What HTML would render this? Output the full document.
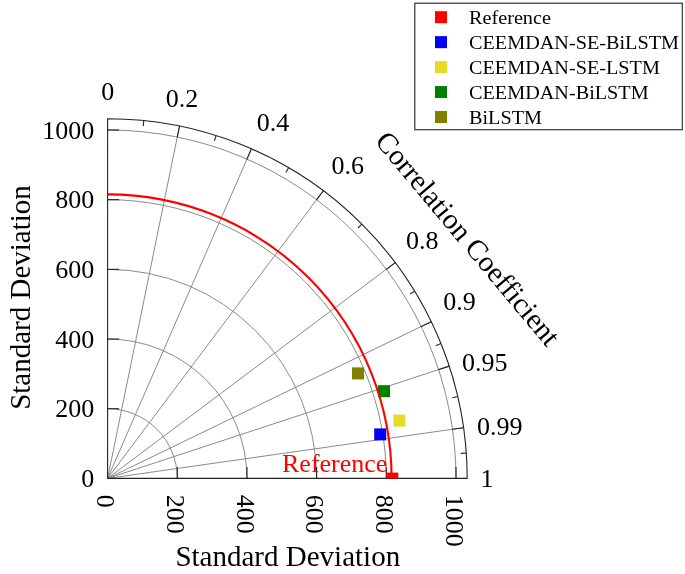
<!DOCTYPE html>
<html><head><meta charset="utf-8"><style>html,body{margin:0;padding:0;background:#fff;overflow:hidden}svg{display:block;will-change:transform}</style></head>
<body><svg width="685" height="574" viewBox="0 0 685 574">
<style>
.g{fill:none;stroke:#8a8a8a;stroke-width:1}
.t{stroke:#222;stroke-width:1.1}
.ax{fill:none;stroke:#222;stroke-width:1.1}
text{font-family:"Liberation Serif",serif;fill:#000}
.tl{font-size:26px}
.ti{font-size:29px}
.lg{font-size:19.45px}
</style>
<rect width="685" height="574" fill="#fff"/>
<path d="M107.60,408.72 A69.68,69.68 0 0 1 177.28,478.40" class="g"/><path d="M107.60,339.04 A139.36,139.36 0 0 1 246.96,478.40" class="g"/><path d="M107.60,269.36 A209.04,209.04 0 0 1 316.64,478.40" class="g"/><path d="M107.60,199.68 A278.72,278.72 0 0 1 386.32,478.40" class="g"/><path d="M107.60,130.00 A348.40,348.40 0 0 1 456.00,478.40" class="g"/><line x1="107.60" y1="478.40" x2="179.52" y2="126.07" class="g"/><line x1="107.60" y1="478.40" x2="251.44" y2="148.82" class="g"/><line x1="107.60" y1="478.40" x2="323.36" y2="190.72" class="g"/><line x1="107.60" y1="478.40" x2="395.28" y2="262.64" class="g"/><line x1="107.60" y1="478.40" x2="431.24" y2="321.65" class="g"/><line x1="107.60" y1="478.40" x2="449.22" y2="366.11" class="g"/><line x1="107.60" y1="478.40" x2="463.60" y2="427.67" class="g"/><line x1="177.22" y1="137.33" x2="179.52" y2="126.07" class="t"/><line x1="246.84" y1="159.36" x2="251.44" y2="148.82" class="t"/><line x1="316.46" y1="199.92" x2="323.36" y2="190.72" class="t"/><line x1="386.08" y1="269.54" x2="395.28" y2="262.64" class="t"/><line x1="420.89" y1="326.67" x2="431.24" y2="321.65" class="t"/><line x1="438.29" y1="369.71" x2="449.22" y2="366.11" class="t"/><line x1="452.22" y1="429.29" x2="463.60" y2="427.67" class="t"/><line x1="143.19" y1="126.09" x2="143.74" y2="120.62" class="t"/><line x1="214.42" y1="140.80" x2="216.08" y2="135.55" class="t"/><line x1="285.85" y1="172.44" x2="288.62" y2="167.68" class="t"/><line x1="357.99" y1="228.01" x2="361.88" y2="224.12" class="t"/><line x1="409.98" y1="294.14" x2="414.68" y2="291.28" class="t"/><line x1="435.87" y1="345.65" x2="440.97" y2="343.58" class="t"/><line x1="452.41" y1="397.83" x2="457.77" y2="396.58" class="t"/><line x1="460.81" y1="453.36" x2="466.30" y2="452.97" class="t"/><line x1="107.60" y1="408.72" x2="119.10" y2="408.72" class="t"/><line x1="177.28" y1="478.40" x2="177.28" y2="466.90" class="t"/><line x1="107.60" y1="339.04" x2="119.10" y2="339.04" class="t"/><line x1="246.96" y1="478.40" x2="246.96" y2="466.90" class="t"/><line x1="107.60" y1="269.36" x2="119.10" y2="269.36" class="t"/><line x1="316.64" y1="478.40" x2="316.64" y2="466.90" class="t"/><line x1="107.60" y1="199.68" x2="119.10" y2="199.68" class="t"/><line x1="386.32" y1="478.40" x2="386.32" y2="466.90" class="t"/><line x1="107.60" y1="130.00" x2="119.10" y2="130.00" class="t"/><line x1="456.00" y1="478.40" x2="456.00" y2="466.90" class="t"/><path d="M107.60,478.40 L107.60,118.80 A359.60,359.60 0 0 1 467.20,478.40 Z" class="ax"/>
<text x="94.2" y="487.00" text-anchor="end" class="tl">0</text><text x="94.2" y="417.32" text-anchor="end" class="tl">200</text><text x="94.2" y="347.64" text-anchor="end" class="tl">400</text><text x="94.2" y="277.96" text-anchor="end" class="tl">600</text><text x="94.2" y="208.28" text-anchor="end" class="tl">800</text><text x="94.2" y="138.60" text-anchor="end" class="tl">1000</text><text transform="translate(97.20,494.8) rotate(90)" class="tl">0</text><text transform="translate(166.88,494.8) rotate(90)" class="tl">200</text><text transform="translate(236.56,494.8) rotate(90)" class="tl">400</text><text transform="translate(306.24,494.8) rotate(90)" class="tl">600</text><text transform="translate(375.92,494.8) rotate(90)" class="tl">800</text><text transform="translate(445.60,494.8) rotate(90)" class="tl">1000</text><text x="107.80" y="99.80" text-anchor="middle" class="tl">0</text><text x="182.00" y="107.10" text-anchor="middle" class="tl">0.2</text><text x="273.10" y="130.80" text-anchor="middle" class="tl">0.4</text><text x="347.80" y="174.40" text-anchor="middle" class="tl">0.6</text><text x="422.20" y="248.60" text-anchor="middle" class="tl">0.8</text><text x="459.50" y="310.10" text-anchor="middle" class="tl">0.9</text><text x="484.70" y="370.90" text-anchor="middle" class="tl">0.95</text><text x="499.80" y="434.50" text-anchor="middle" class="tl">0.99</text><text x="487.00" y="486.90" text-anchor="middle" class="tl">1</text><text x="287.8" y="565.8" text-anchor="middle" class="ti">Standard Deviation</text><text transform="translate(29.8,297.5) rotate(-90)" text-anchor="middle" class="ti">Standard Deviation</text><text transform="translate(460.5,244.7) rotate(50)" text-anchor="middle" class="ti">Correlation Coefficient</text><text x="282" y="472.1" class="tl" style="fill:#f00">Reference</text>
<rect x="374.20" y="428.40" width="12" height="12" fill="#0000ff"/><rect x="393.30" y="414.60" width="12" height="12" fill="#e6dc28"/><rect x="378.00" y="385.20" width="12" height="12" fill="#008000"/><rect x="352.00" y="367.40" width="12" height="12" fill="#808000"/>
<path d="M107.60,194.40 A284.0,284.0 0 0 1 391.60,478.40" fill="none" stroke="#f00" stroke-width="2.1"/>
<rect x="386.3" y="472.6" width="12" height="5.8" fill="#f00"/>
<rect x="414.8" y="3.2" width="267.5" height="126.5" fill="#fff" stroke="#333" stroke-width="1.2"/><rect x="435" y="11.20" width="12" height="12" fill="#ff0000"/><text transform="translate(469,23.70) scale(1.04,1)" class="lg">Reference</text><rect x="435" y="36.15" width="12" height="12" fill="#0000ff"/><text transform="translate(469,48.65) scale(1.04,1)" class="lg">CEEMDAN-SE-BiLSTM</text><rect x="435" y="61.10" width="12" height="12" fill="#e6dc28"/><text transform="translate(469,73.60) scale(1.04,1)" class="lg">CEEMDAN-SE-LSTM</text><rect x="435" y="86.05" width="12" height="12" fill="#008000"/><text transform="translate(469,98.55) scale(1.04,1)" class="lg">CEEMDAN-BiLSTM</text><rect x="435" y="111.00" width="12" height="12" fill="#808000"/><text transform="translate(469,123.50) scale(1.04,1)" class="lg">BiLSTM</text>
</svg></body></html>
